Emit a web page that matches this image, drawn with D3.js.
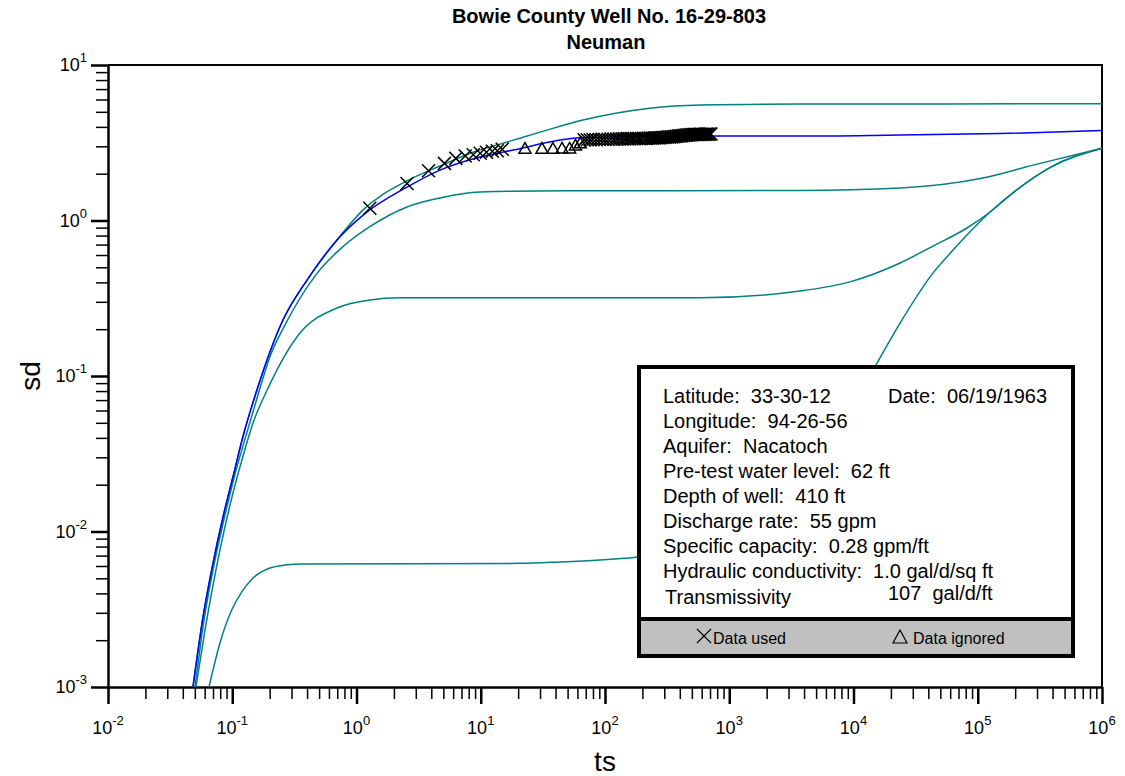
<!DOCTYPE html>
<html>
<head>
<meta charset="utf-8">
<script src="https://cdn.jsdelivr.net/npm/d3@7"></script>
<style>
  body { margin: 0; background: #fff; }
  svg { font-family: "Liberation Sans", Arial, sans-serif; }
</style>
</head>
<body>
<div id="chart"></div>
<script>
// tick labels (powers of ten)
var xExps = [-2, -1, 0, 1, 2, 3, 4, 5, 6]
var yExps = [-3, -2, -1, 0, 1]

// type curves, [ts, sd]
var curveTop = [[0.0483,0.001],[0.0582,0.00282],[0.070,0.00624],[0.0843,0.0124],[0.1014,0.0225],[0.122,0.0408],[0.158,0.0813],[0.256,0.229],[0.40,0.414],[0.697,0.75],[1.13,1.17],[2.55,1.80],[4.70,2.24],[8.66,2.75],[17.2,3.24],[30,3.70],[66.5,4.43],[230,5.28],[582,5.53],[3710,5.61],[1e6,5.63]]
var curveFit = [[0.0483,0.001],[0.0582,0.00282],[0.070,0.00624],[0.0843,0.0124],[0.1014,0.0225],[0.122,0.0408],[0.158,0.0813],[0.256,0.229],[0.40,0.414],[0.697,0.75],[1.13,1.084],[2.55,1.64],[4.70,2.11],[9.86,2.56],[18.2,2.84],[63,3.40],[352,3.49],[3710,3.49],[23700,3.55],[151000,3.62],[1e6,3.79]]
var curve155 = [[0.0501,0.001],[0.0593,0.0027],[0.0713,0.0061],[0.0859,0.0120],[0.1033,0.0221],[0.1268,0.0394],[0.161,0.0755],[0.201,0.133],[0.266,0.213],[0.481,0.457],[0.778,0.679],[1.28,0.912],[2.55,1.222],[4.70,1.396],[9.86,1.524],[30,1.55],[3710,1.56],[23700,1.62],[110000,1.876],[278600,2.27],[1e6,2.92]]
var curve031 = [[0.051,0.001],[0.0604,0.00233],[0.0796,0.0076],[0.0995,0.01667],[0.1197,0.0289],[0.147,0.0499],[0.191,0.0813],[0.351,0.189],[0.697,0.2735],[1.28,0.308],[2.24,0.318],[582,0.318],[3710,0.352],[9370,0.403],[23700,0.533],[43600,0.685],[81900,0.895],[125600,1.134],[207000,1.58],[381000,2.19],[1e6,2.92]]
var curveLow = [[0.065,0.001],[0.0796,0.00192],[0.099,0.00313],[0.119,0.00408],[0.147,0.00502],[0.201,0.00582],[0.242,0.00603],[0.351,0.00618],[20.7,0.00624],[43.4,0.00637],[91,0.00656],[177,0.00683],[582,0.00783],[1470,0.01023],[3710,0.0185],[7785,0.045],[15450,0.121],[23700,0.219],[43600,0.459],[63200,0.645],[81900,0.807],[125600,1.134],[207000,1.58],[381000,2.19],[1e6,2.92]]

// measured data
var usedTs = [1.28,2.55,3.8,5.1,6.3,7.5,8.7,9.9,11.1,12.4,13.6,14.9,
  68,72,76,80,85,90,95,100,106,112,118,124,130,137,144,151,158,165,172,180,188,196,204,213,222,231,240,249,258,268,278,288,298,309,320,331,342,354,366,378,390,402,415,428,441,454,468,482,496,510,524,539,554,569,584,599,614,629,644,660,676,692,713]
var usedSd = [1.20,1.73,2.09,2.33,2.51,2.60,2.65,2.71,2.75,2.79,2.81,2.87,
  3.30,3.31,3.30,3.32,3.31,3.32,3.33,3.32,3.33,3.34,3.33,3.34,3.35,3.34,3.35,3.36,3.35,3.36,3.36,3.37,3.36,3.37,3.38,3.37,3.38,3.39,3.38,3.39,3.40,3.40,3.41,3.42,3.42,3.43,3.44,3.44,3.45,3.46,3.47,3.48,3.49,3.50,3.51,3.52,3.53,3.54,3.55,3.56,3.56,3.57,3.57,3.58,3.57,3.58,3.58,3.59,3.58,3.59,3.59,3.60,3.59,3.60,3.60]
var ignTs = [22.7,31.1,38.1,45.1,51.9,57.8,63.2]
var ignSd = [2.92,2.92,2.92,2.93,2.93,3.06,3.16]

// info box text
var infoLines = ["Latitude:  33-30-12","Longitude:  94-26-56","Aquifer:  Nacatoch","Pre-test water level:  62 ft","Depth of well:  410 ft","Discharge rate:  55 gpm","Specific capacity:  0.28 gpm/ft","Hydraulic conductivity:  1.0 gal/d/sq ft"]
var dateText = "Date:  06/19/1963"
var transLabel = "Transmissivity"
var transValue = "107  gal/d/ft"

var margin = {top: 65, right: 23, bottom: 89, left: 108},
    width = 1125 - margin.left - margin.right,
    height = 776 - margin.top - margin.bottom

var svg = d3.select("#chart")
  .append("svg")
    .attr("width", 1125)
    .attr("height", 776)

var g = svg.append("g")
    .attr("transform", "translate(" + margin.left + "," + margin.top + ")")

var x = d3.scaleLog().domain([1e-2, 1e6]).range([0, width])
var y = d3.scaleLog().domain([1e-3, 1e1]).range([height, 0])

// title
svg.append("text").attr("x", 609).attr("y", 23).attr("text-anchor", "middle")
  .attr("font-weight", "bold").attr("font-size", 20).text("Bowie County Well No. 16-29-803")
svg.append("text").attr("x", 606).attr("y", 49).attr("text-anchor", "middle")
  .attr("font-weight", "bold").attr("font-size", 20).text("Neuman")

// ticks
var majorX = xExps.map(function(e) { return Math.pow(10, e) })
var majorY = yExps.map(function(e) { return Math.pow(10, e) })
var minorX = [], minorY = []
xExps.slice(0, -1).forEach(function(e) { for (var k = 2; k < 10; k++) minorX.push(k * Math.pow(10, e)) })
yExps.slice(0, -1).forEach(function(e) { for (var k = 2; k < 10; k++) minorY.push(k * Math.pow(10, e)) })

var xMinorAxis = g.append("g").attr("transform", "translate(0," + height + ")")
  .call(d3.axisBottom(x).tickValues(minorX).tickSize(12).tickFormat(""))
xMinorAxis.select(".domain").remove()
xMinorAxis.selectAll("line").attr("stroke-width", 1.5)
var xMajorAxis = g.append("g").attr("transform", "translate(0," + height + ")")
  .call(d3.axisBottom(x).tickValues(majorX).tickSize(17).tickSizeOuter(0).tickFormat(""))
xMajorAxis.selectAll("line").attr("stroke-width", 2.5)
xMajorAxis.select(".domain").attr("stroke-width", 2.5)

var yMinorAxis = g.append("g")
  .call(d3.axisLeft(y).tickValues(minorY).tickSize(12).tickFormat(""))
yMinorAxis.select(".domain").remove()
yMinorAxis.selectAll("line").attr("stroke-width", 1.5)
var yMajorAxis = g.append("g")
  .call(d3.axisLeft(y).tickValues(majorY).tickSize(17).tickSizeOuter(0).tickFormat(""))
yMajorAxis.selectAll("line").attr("stroke-width", 2.5)
yMajorAxis.select(".domain").attr("stroke-width", 2.5)

// top and right frame
g.append("path")
  .attr("d", "M0,0H" + width + "V" + height)
  .attr("fill", "none").attr("stroke", "#000").attr("stroke-width", 2)

// tick labels with superscripts
xExps.forEach(function(e) {
  var t = g.append("text").attr("x", x(Math.pow(10, e))).attr("y", height + 47)
    .attr("text-anchor", "middle").attr("font-size", 18)
  t.append("tspan").text("10")
  t.append("tspan").attr("font-size", 13).attr("dy", -9).text(e)
})
yExps.forEach(function(e) {
  var t = g.append("text").attr("x", -21).attr("y", y(Math.pow(10, e)) + 6)
    .attr("text-anchor", "end").attr("font-size", 18)
  t.append("tspan").text("10")
  t.append("tspan").attr("font-size", 13).attr("dy", -9).text(e)
})

// axis titles
svg.append("text").attr("x", 605).attr("y", 771).attr("text-anchor", "middle")
  .attr("font-size", 28).text("ts")
svg.append("text").attr("transform", "translate(40,376) rotate(-90)")
  .attr("text-anchor", "middle").attr("font-size", 28).text("sd")

// curves
svg.append("defs").append("clipPath").attr("id", "clip")
  .append("rect").attr("width", width).attr("height", height)

var line = d3.line()
  .x(function(d) { return x(d[0]) })
  .y(function(d) { return y(d[1]) })
  .curve(d3.curveMonotoneX)

var plot = g.append("g").attr("clip-path", "url(#clip)")
var curves = [
  {data: curveTop, color: "#008080"},
  {data: curve155, color: "#008080"},
  {data: curve031, color: "#008080"},
  {data: curveLow, color: "#008080"},
  {data: curveFit, color: "#0000ff"}
]
curves.forEach(function(c) {
  plot.append("path").datum(c.data)
    .attr("fill", "none").attr("stroke", c.color).attr("stroke-width", 1.5)
    .attr("d", line)
})

// markers
var used = usedTs.map(function(t, i) { return [t, usedSd[i]] })
var ign = ignTs.map(function(t, i) { return [t, ignSd[i]] })

g.append("g").selectAll("path").data(used).enter().append("path")
  .attr("transform", function(d) { return "translate(" + x(d[0]) + "," + y(d[1]) + ")" })
  .attr("d", "M-6.5,-6.5L6.5,6.5M-6.5,6.5L6.5,-6.5")
  .attr("stroke", "#000").attr("stroke-width", 1.5).attr("fill", "none")

g.append("g").selectAll("path").data(ign).enter().append("path")
  .attr("transform", function(d) { return "translate(" + x(d[0]) + "," + y(d[1]) + ")" })
  .attr("d", "M0,-5.5L6,5L-6,5Z")
  .attr("stroke", "#000").attr("stroke-width", 1.5).attr("fill", "none")

// info box
var box = svg.append("g")
box.append("rect").attr("x", 639).attr("y", 367).attr("width", 434).attr("height", 252)
  .attr("fill", "#fff").attr("stroke", "#000").attr("stroke-width", 4)
box.append("rect").attr("x", 639).attr("y", 619).attr("width", 434).attr("height", 37)
  .attr("fill", "#c0c0c0").attr("stroke", "#000").attr("stroke-width", 4)

box.selectAll("text.info").data(infoLines).enter().append("text")
  .attr("class", "info")
  .attr("x", 663).attr("y", function(d, i) { return 403 + i * 25 })
  .attr("font-size", 20).style("white-space", "pre").text(function(d) { return d })
box.append("text").attr("x", 888).attr("y", 403).attr("font-size", 20)
  .style("white-space", "pre").text(dateText)
box.append("text").attr("x", 665).attr("y", 604).attr("font-size", 20)
  .style("white-space", "pre").text(transLabel)
box.append("text").attr("x", 888).attr("y", 600).attr("font-size", 20)
  .style("white-space", "pre").text(transValue)

// legend row
box.append("path").attr("d", "M697,629L711,643M697,643L711,629")
  .attr("stroke", "#000").attr("stroke-width", 1.2)
box.append("text").attr("x", 713).attr("y", 644).attr("font-size", 16).text("Data used")
box.append("path").attr("d", "M900,630L907,643L893,643Z")
  .attr("stroke", "#000").attr("stroke-width", 1.2).attr("fill", "none")
box.append("text").attr("x", 913).attr("y", 644).attr("font-size", 16).text("Data ignored")
</script>
</body>
</html>
